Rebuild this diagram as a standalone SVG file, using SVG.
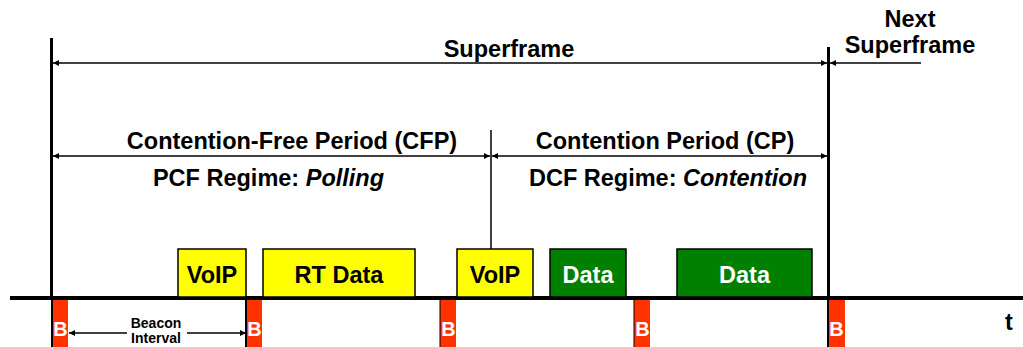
<svg xmlns="http://www.w3.org/2000/svg" width="1023" height="347" viewBox="0 0 1023 347">
  <style>
    .lbl { font-family: "Liberation Sans", Arial, sans-serif; font-weight: bold; font-size: 23.5px; fill: #000; text-anchor: middle; }
    .small { font-size: 14px; }
    .beacon-txt { font-family: "Liberation Sans", Arial, sans-serif; font-weight: bold; font-size: 20px; fill: #fff; text-anchor: middle; }
    .dim { stroke: #000; stroke-width: 1.5; fill: none; }
    .bar { stroke: #000; stroke-width: 3; }
    .yellow { fill: #ffff00; stroke: #000; stroke-width: 1.5; }
    .green { fill: #008000; stroke: #000; stroke-width: 1.5; }
    .beacon { fill: #ff3300; }
    .white { fill: #fff; }
  </style>
  <defs>
    <marker id="ah" viewBox="0 0 10 10" refX="10" refY="5" markerWidth="7" markerHeight="6" orient="auto-start-reverse" markerUnits="userSpaceOnUse">
      <path d="M0,0 L10,5 L0,10 Z" fill="#000"/>
    </marker>
  </defs>

  <rect width="1023" height="347" fill="#fff"/>

  <!-- boundaries, time axis and dimension arrows -->
  <g id="connectors">
    <line class="bar" x1="51.5" y1="38" x2="51.5" y2="300"/>
    <line class="bar" x1="828.5" y1="47" x2="828.5" y2="300"/>
    <line class="dim" x1="491" y1="130" x2="491" y2="249"/>
    <line x1="10" y1="298" x2="1023" y2="298" stroke="#000" stroke-width="4"/>

    <line class="dim" x1="53" y1="63" x2="827" y2="63" marker-start="url(#ah)" marker-end="url(#ah)"/>
    <line class="dim" x1="830" y1="63" x2="921" y2="63" marker-start="url(#ah)"/>
    <line class="dim" x1="53" y1="156" x2="490" y2="156" marker-start="url(#ah)" marker-end="url(#ah)"/>
    <line class="dim" x1="492" y1="156" x2="827" y2="156" marker-start="url(#ah)" marker-end="url(#ah)"/>
    <line class="dim" x1="69" y1="333" x2="127" y2="333" marker-start="url(#ah)"/>
    <line class="dim" x1="187" y1="333" x2="246" y2="333" marker-end="url(#ah)"/>
  </g>

  <!-- period labels -->
  <g id="labels">
    <text class="lbl" x="509" y="57">Superframe</text>
    <text class="lbl" x="910" y="27">Next</text>
    <text class="lbl" x="910" y="53">Superframe</text>
    <text class="lbl" x="292" y="149">Contention-Free Period (CFP)</text>
    <text class="lbl" x="665" y="149">Contention Period (CP)</text>
    <text class="lbl" x="268.5" y="186">PCF Regime: <tspan font-style="italic">Polling</tspan></text>
    <text class="lbl" x="668" y="186">DCF Regime: <tspan font-style="italic">Contention</tspan></text>
    <text class="lbl small" x="156" y="328">Beacon</text>
    <text class="lbl small" x="156" y="343">Interval</text>
    <text class="lbl" x="1009" y="330">t</text>
  </g>

  <!-- frames -->
  <g id="voip1"><rect class="yellow" x="178" y="249" width="68" height="48"/><text class="lbl" x="212" y="283">VoIP</text></g>
  <g id="rtdata"><rect class="yellow" x="263" y="249" width="152" height="48"/><text class="lbl" x="339" y="283">RT Data</text></g>
  <g id="voip2"><rect class="yellow" x="457" y="249" width="76" height="48"/><text class="lbl" x="495" y="283">VoIP</text></g>
  <g id="data1"><rect class="green" x="550" y="249" width="76" height="48"/><text class="lbl white" x="588" y="283">Data</text></g>
  <g id="data2"><rect class="green" x="677" y="249" width="135" height="48"/><text class="lbl white" x="744.5" y="283">Data</text></g>

  <!-- beacons -->
  <g id="beacon1"><rect class="beacon" x="52" y="300" width="16" height="47"/><line x1="52" y1="300" x2="52" y2="347" stroke="#000" stroke-width="2"/><text class="beacon-txt" x="60.5" y="336">B</text></g>
  <g id="beacon2"><rect class="beacon" x="246" y="300" width="16" height="47"/><line x1="246" y1="300" x2="246" y2="347" stroke="#000" stroke-width="2"/><text class="beacon-txt" x="254.5" y="336">B</text></g>
  <g id="beacon3"><rect class="beacon" x="440" y="300" width="16" height="47"/><line x1="440" y1="300" x2="440" y2="347" stroke="#000" stroke-width="1"/><text class="beacon-txt" x="448.5" y="336">B</text></g>
  <g id="beacon4"><rect class="beacon" x="634" y="300" width="16" height="47"/><line x1="634" y1="300" x2="634" y2="347" stroke="#000" stroke-width="1"/><text class="beacon-txt" x="642.5" y="336">B</text></g>
  <g id="beacon5"><rect class="beacon" x="828" y="300" width="17" height="47"/><line x1="828" y1="300" x2="828" y2="347" stroke="#000" stroke-width="2"/><text class="beacon-txt" x="836.5" y="336">B</text></g>
</svg>
